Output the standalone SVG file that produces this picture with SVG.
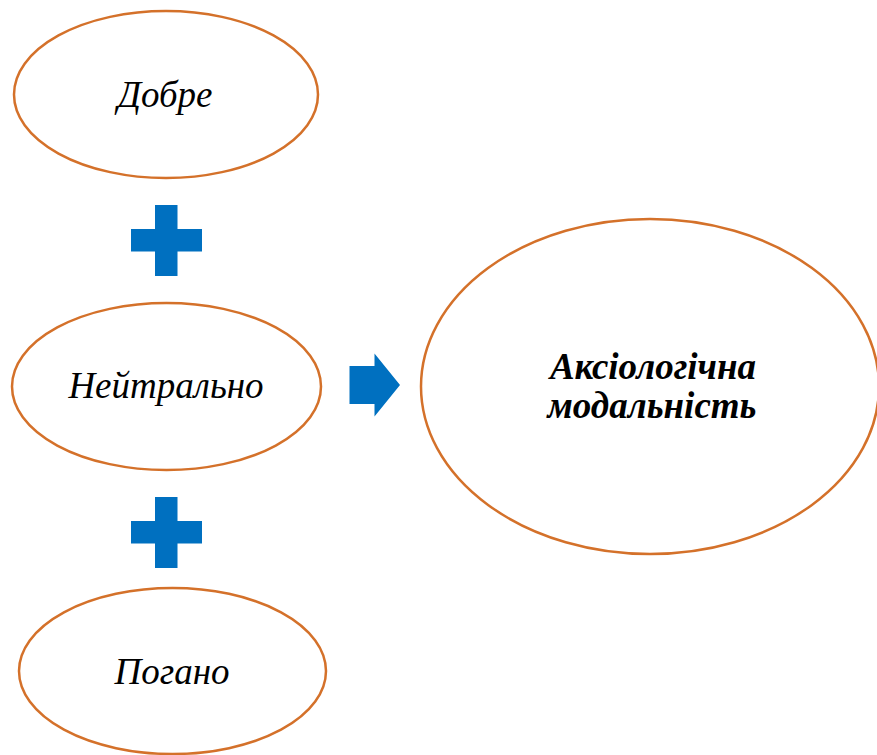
<svg xmlns="http://www.w3.org/2000/svg" width="877" height="755" viewBox="0 0 877 755">
<style>
.node ellipse{fill:#fff;stroke:#D4712A;stroke-width:2.5}
.t{font-family:"Liberation Serif","Times New Roman",serif;font-style:italic;font-size:37px;text-anchor:middle;fill:#000}
.b{font-weight:bold}
.conn{fill:#0070C0}
</style>
<rect width="877" height="755" fill="#fff"/>
<g id="dobre" class="node"><ellipse cx="166" cy="94.5" rx="152" ry="83.5"/><text class="t" x="165" y="107">Добре</text></g>
<g id="neutral" class="node"><ellipse cx="166.5" cy="386.5" rx="154.5" ry="83.5"/><text class="t" x="166" y="398">Нейтрально</text></g>
<g id="pogano" class="node"><ellipse cx="172.5" cy="671" rx="153.5" ry="83"/><text class="t" x="172" y="684">Погано</text></g>
<g id="axio" class="node"><ellipse cx="650" cy="386.5" rx="229" ry="167.5"/><text class="t b" x="653" y="379">Аксіологічна</text><text class="t b" x="652" y="418">модальність</text></g>
<g id="connectors" class="conn">
<path d="M155 205H177.5V229H202V251.5H177.5V276H155V251.5H131V229H155Z"/>
<path d="M155 497H177.5V521H202V543.5H177.5V568H155V543.5H131V521H155Z"/>
<path d="M349.5 366H374.5V353.5L400 385L374.5 416.5V404H349.5Z"/>
</g>
</svg>
